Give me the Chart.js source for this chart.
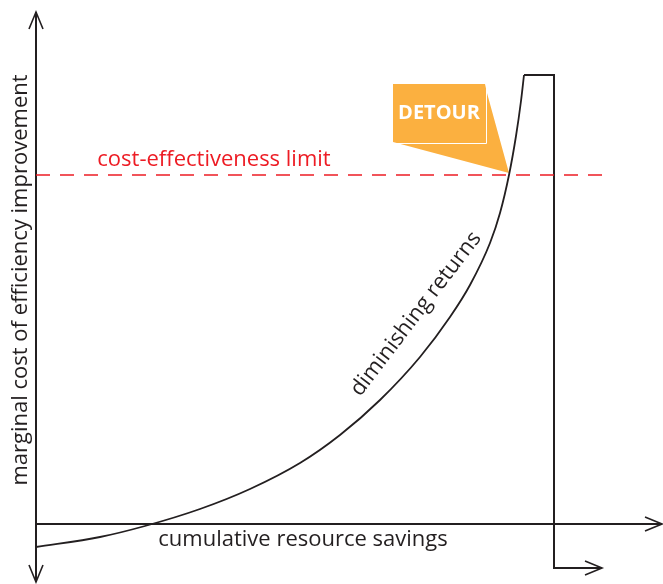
<!DOCTYPE html>
<html lang="en">
<head>
    <meta charset="UTF-8">
    <title>Diminishing returns detour</title>
    <style>
        body {
            margin: 0;
            padding: 0;
            background-color: #fff;
        }
        #chart-box {
            width: 663px;
            height: 584px;
        }
    </style>
    <script src="https://cdn.jsdelivr.net/npm/chart.js"></script>
</head>
<body>
    <div id="chart-box">
        <canvas id="detourChart" width="663" height="584"></canvas>
    </div>

    <script>
        // curve: cumulative savings (x) vs marginal cost (y)
        var savings = [0, 64, 109, 164, 214, 264, 304, 344, 384, 414, 434, 454, 464, 473, 480, 485, 488];
        var marginalCost = [-23, -13, -2, 15, 35, 61, 89, 124, 167, 207, 239, 281, 311, 349, 388, 423, 449];

        // the detour path past the limit
        var detourX = [488, 518, 518, 566];
        var detourY = [449, 449, -44, -44];

        var limitCost = 349;
        var limitRange = [0, 576];

        // axis extents (arrow tips)
        var xAxisEnd = 626;
        var yAxisTop = 512;
        var yAxisBottom = -58;

        // callout box and pointer
        var calloutX = [357, 449];
        var calloutY = [382, 440];
        var calloutTip = [473, 351];
        var calloutJoin = [451, 431];

        var labels = {
            x: 'cumulative resource savings',
            y: 'marginal cost of efficiency improvement',
            limit: 'cost-effectiveness limit',
            curve: 'diminishing returns',
            detour: 'DETOUR'
        };

        function toPoints(xs, ys) {
            return xs.map(function(x, i) { return { x: x, y: ys[i] }; });
        }

        var ink = '#231f20';
        var fontFam = '"Open Sans", "Noto Sans", sans-serif';

        function arrowHead(ctx, tipX, tipY, dirX, dirY) {
            var len = 17, spread = 7;
            var px = -dirY, py = dirX;
            ctx.beginPath();
            ctx.moveTo(tipX - dirX * len + px * spread, tipY - dirY * len + py * spread);
            ctx.lineTo(tipX, tipY);
            ctx.lineTo(tipX - dirX * len - px * spread, tipY - dirY * len - py * spread);
            ctx.stroke();
        }

        var decorations = {
            id: 'decorations',
            beforeDatasetsDraw: function(chart) {
                var ctx = chart.ctx;
                var xs = chart.scales.x, ys = chart.scales.y;
                var ox = xs.getPixelForValue(0), oy = ys.getPixelForValue(0);

                // callout
                var bx0 = xs.getPixelForValue(calloutX[0]), bx1 = xs.getPixelForValue(calloutX[1]);
                var by0 = ys.getPixelForValue(calloutY[1]), by1 = ys.getPixelForValue(calloutY[0]);
                ctx.save();
                ctx.fillStyle = '#fbb040';
                ctx.beginPath();
                ctx.moveTo(bx0, by0);
                ctx.lineTo(bx1, by0);
                ctx.lineTo(xs.getPixelForValue(calloutJoin[0]), ys.getPixelForValue(calloutJoin[1]));
                ctx.lineTo(xs.getPixelForValue(calloutTip[0]), ys.getPixelForValue(calloutTip[1]));
                ctx.lineTo(bx0, by1);
                ctx.closePath();
                ctx.fill();
                ctx.strokeStyle = '#fff';
                ctx.lineWidth = 1;
                ctx.beginPath();
                ctx.moveTo(bx1 + 1.5, by0);
                ctx.lineTo(bx1 + 1.5, by1 + 1.5);
                ctx.lineTo(bx0, by1 + 1.5);
                ctx.stroke();
                ctx.fillStyle = '#fff';
                ctx.font = 'bold 20px ' + fontFam;
                ctx.textAlign = 'center';
                ctx.textBaseline = 'middle';
                ctx.fillText(labels.detour, (bx0 + bx1) / 2, (by0 + by1) / 2);
                ctx.restore();

                // axes
                ctx.save();
                ctx.strokeStyle = ink;
                ctx.lineWidth = 2;
                ctx.beginPath();
                ctx.moveTo(ox, ys.getPixelForValue(yAxisTop));
                ctx.lineTo(ox, ys.getPixelForValue(yAxisBottom));
                ctx.moveTo(ox, oy);
                ctx.lineTo(xs.getPixelForValue(xAxisEnd), oy);
                ctx.stroke();
                ctx.lineWidth = 1.6;
                arrowHead(ctx, ox, ys.getPixelForValue(yAxisTop), 0, -1);
                arrowHead(ctx, ox, ys.getPixelForValue(yAxisBottom), 0, 1);
                arrowHead(ctx, xs.getPixelForValue(xAxisEnd), oy, 1, 0);
                ctx.restore();

                // texts
                ctx.save();
                ctx.fillStyle = ink;
                ctx.font = '22px ' + fontFam;
                ctx.textAlign = 'center';
                ctx.textBaseline = 'middle';
                ctx.fillText(labels.x, 303, 540);
                ctx.save();
                ctx.translate(21, 280);
                ctx.rotate(-Math.PI / 2);
                ctx.fillText(labels.y, 0, 0);
                ctx.restore();
                ctx.save();
                ctx.translate(416, 314);
                ctx.rotate(-52.6 * Math.PI / 180);
                ctx.fillText(labels.curve, 0, 0);
                ctx.restore();
                ctx.fillStyle = '#ed1c24';
                ctx.fillText(labels.limit, 214, 160);
                ctx.restore();
            },
            afterDatasetsDraw: function(chart) {
                var ctx = chart.ctx;
                var xs = chart.scales.x, ys = chart.scales.y;
                var n = detourX.length;
                ctx.save();
                ctx.strokeStyle = ink;
                ctx.lineWidth = 1.6;
                arrowHead(ctx, xs.getPixelForValue(detourX[n - 1]), ys.getPixelForValue(detourY[n - 1]), 1, 0);
                ctx.restore();
            }
        };

        new Chart(document.getElementById('detourChart'), {
            type: 'scatter',
            data: {
                datasets: [
                    {
                        data: [{ x: limitRange[0], y: limitCost }, { x: limitRange[1], y: limitCost }],
                        showLine: true,
                        borderColor: '#ed1c24',
                        borderWidth: 1.5,
                        borderDash: [14, 10],
                        pointRadius: 0
                    },
                    {
                        data: toPoints(savings, marginalCost),
                        showLine: true,
                        borderColor: ink,
                        borderWidth: 1.8,
                        cubicInterpolationMode: 'monotone',
                        pointRadius: 0
                    },
                    {
                        data: toPoints(detourX, detourY),
                        showLine: true,
                        borderColor: ink,
                        borderWidth: 2,
                        tension: 0,
                        pointRadius: 0
                    }
                ]
            },
            options: {
                responsive: false,
                animation: false,
                layout: { padding: 0 },
                scales: {
                    x: { type: 'linear', min: -36, max: 627, display: false },
                    y: { type: 'linear', min: -60, max: 524, display: false }
                },
                plugins: {
                    legend: { display: false },
                    tooltip: { enabled: false }
                }
            },
            plugins: [decorations]
        });
    </script>
</body>
</html>
